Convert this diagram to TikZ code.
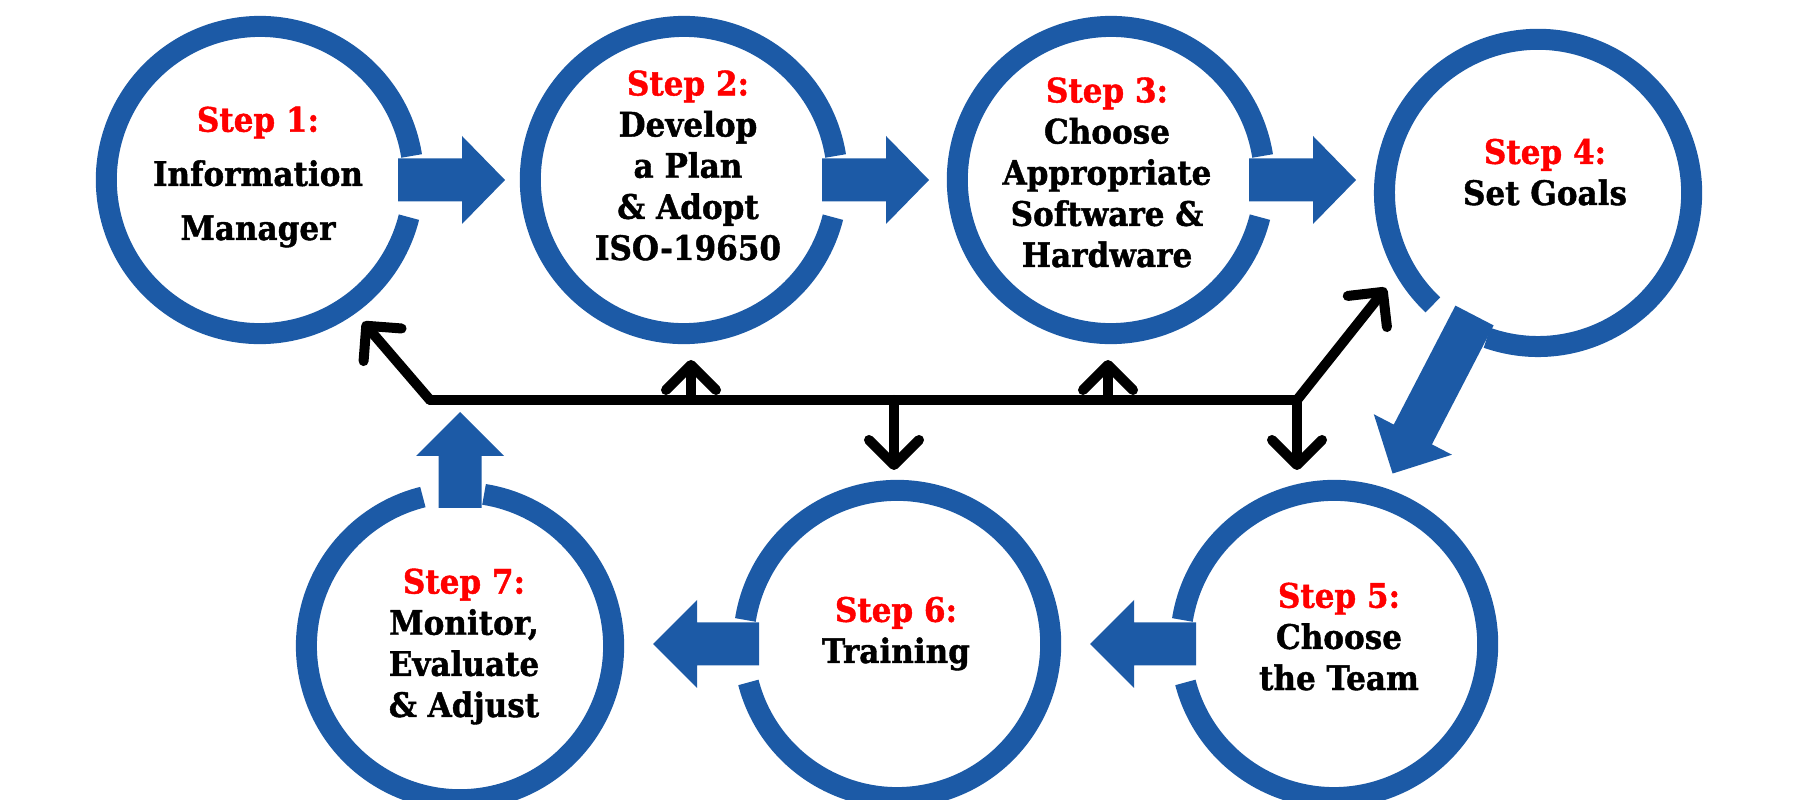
\documentclass[tikz,border=0pt]{standalone}
\usepackage{fontspec}
\newfontfamily\stepfont{DejaVu Serif Bold}[FakeBold=1.2,FakeStretch=0.92]
\usetikzlibrary{arrows.meta}
\definecolor{ringblue}{HTML}{1C5AA6}
\definecolor{stepred}{HTML}{FF0000}

\begin{document}
\begin{tikzpicture}[x=0.01cm,y=0.01cm,
		ring/.style={draw=ringblue,line width=0.21cm},
		bigarrow/.style={fill=ringblue},
		link/.style={line width=0.1cm,line cap=round,line join=round},
		tip/.style={link,-{Straight Barb[round,length=2.5mm,width=5mm]}},
		steptext/.style={anchor=base,align=center,font=\stepfont\fontsize{9.6}{11.7}\selectfont}]
	\useasboundingbox (0,0) rectangle (1800,800);

	% centres of the rings
	\coordinate (c1) at (260,620);
	\coordinate (c2) at (684,620);
	\coordinate (c3) at (1111,620);
	\coordinate (c4) at (1538,607);
	\coordinate (c5) at (1334,156);
	\coordinate (c6) at (897,156);
	\coordinate (c7) at (460,154);

	% ring with a gap, and the fat arrow leaving through it
	\foreach \c/\from/\to/\rot/\lb/\lt in {c1/9/346/0/202/245,c2/9/346/0/202/245,c3/9/346/0/202/245,
			c4/250.6/586.8/242.6/272/316,c5/194.5/531/180/200/244,c6/194.5/531/180/200/244,c7/104/441/90/190/234}{
		\draw[ring] ([shift={(\from:153.5)}]\c) arc[start angle=\from,end angle=\to,radius=1.535cm];
		\fill[bigarrow,shift={(\c)},rotate=\rot] (138,-21.5) -- (\lb,-21.5) -- (\lb,-44) -- (\lt,0)
			-- (\lb,44) -- (\lb,21.5) -- (138,21.5) -- cycle;
	}

	% anchor=base sits on the last line
	\node[steptext,font=\stepfont\fontsize{9.6}{15.4}\selectfont] (s1) at (258,560) {\textcolor{stepred}{Step 1:}\\Information\\Manager};
	\node[steptext] (s2) at (688,540) {\textcolor{stepred}{Step 2:}\\Develop\\a Plan\\\& Adopt\\ISO-19650};
	\node[steptext] (s3) at (1107,533) {\textcolor{stepred}{Step 3:}\\Choose\\Appropriate\\Software \&\\Hardware};
	\node[steptext] (s4) at (1545,595) {\textcolor{stepred}{Step 4:}\\Set Goals};
	\node[steptext] (s5) at (1339,110) {\textcolor{stepred}{Step 5:}\\Choose\\the Team};
	\node[steptext] (s6) at (896,137) {\textcolor{stepred}{Step 6:}\\Training};
	\node[steptext] (s7) at (464,83) {\textcolor{stepred}{Step 7:}\\Monitor,\\Evaluate\\\& Adjust};

	% black feedback lines
	\coordinate (jl) at (430,400);
	\coordinate (jr) at (1297,400);
	\coordinate (b2) at (691,400);
	\coordinate (b3) at (1108,400);
	\coordinate (b6) at (894,400);
	\coordinate (t1) at (363,478);
	\coordinate (t2) at (691,440);
	\coordinate (t3) at (1108,440);
	\coordinate (t4) at (1386,512);
	\coordinate (t5) at (1297,330);
	\coordinate (t6) at (894,330);

	\draw[link] (jl) -- (jr);
	\draw[tip] (jl) -- (t1);
	\draw[tip] (b2) -- (t2);
	\draw[tip] (b3) -- (t3);
	\draw[tip] (jr) -- (t4);
	\draw[tip] (jr) -- (t5);
	\draw[tip] (b6) -- (t6);
\end{tikzpicture}
\end{document}
